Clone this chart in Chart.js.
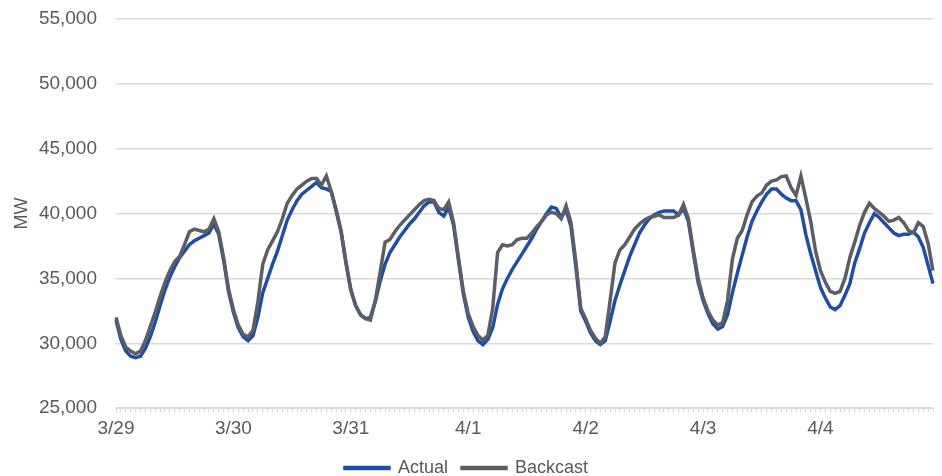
<!DOCTYPE html>
<html>
<head>
<meta charset="utf-8">
<script src="https://cdn.jsdelivr.net/npm/chart.js@4.4.1/dist/chart.umd.min.js"></script>
<style>
  html, body { margin: 0; padding: 0; background: #fff; }
  #wrap { width: 942px; height: 476px; }
</style>
</head>
<body>
<div id="wrap"><canvas id="chart"></canvas></div>
<script>
// hourly load, 3/29 00:00 through 4/4 23:00
const days = ["3/29", "3/30", "3/31", "4/1", "4/2", "4/3", "4/4"];

const actual = [
  31800, 30300, 29400, 29000, 28900, 29000, 29600, 30500, 31600, 32900, 34100, 35100, 35900, 36600, 37100, 37600, 37900, 38100, 38300, 38500, 39200, 38400, 36400, 34000,
  32400, 31200, 30500, 30200, 30600, 32000, 33900, 35000, 36100, 37100, 38300, 39500, 40300, 41000, 41500, 41800, 42100, 42400, 42000, 41900, 41700, 40200, 38600, 36200,
  34100, 32900, 32200, 31900, 32000, 33200, 34800, 36100, 37000, 37600, 38200, 38700, 39200, 39600, 40100, 40600, 40900, 40900, 40100, 39800, 40500, 39100, 36400, 33800,
  32000, 30900, 30200, 29900, 30300, 31200, 33000, 34200, 35000, 35700, 36300, 36900, 37500, 38100, 38800, 39400, 40000, 40500, 40400, 39700, 40300, 39000, 35900, 32500,
  31700, 30800, 30200, 29900, 30200, 31700, 33300, 34500, 35600, 36700, 37600, 38500, 39100, 39600, 39900, 40100, 40200, 40200, 40200, 39900, 40400, 39400, 37000, 34700,
  33300, 32300, 31500, 31100, 31300, 32200, 33900, 35400, 36800, 38200, 39400, 40200, 40900, 41500, 41900, 41900, 41500, 41200, 41000, 41000, 40300, 38400, 36900, 35600,
  34300, 33500, 32800, 32600, 32900, 33700, 34600, 36200, 37300, 38500, 39300, 40000, 39700, 39300, 38900, 38500, 38300, 38400, 38400, 38600, 38200, 37400, 36000, 34600
];

const backcast = [
  32000, 30600, 29700, 29400, 29200, 29400, 30200, 31300, 32400, 33600, 34700, 35600, 36300, 36700, 37600, 38600, 38800, 38700, 38600, 38800, 39600, 38600, 36600, 34200,
  32600, 31400, 30700, 30500, 31000, 33200, 36100, 37200, 37900, 38600, 39600, 40800, 41400, 41900, 42200, 42500, 42700, 42700, 42200, 42900, 41700, 40300, 38700, 36300,
  34100, 32900, 32200, 31900, 31800, 33300, 35500, 37800, 38000, 38600, 39100, 39500, 39900, 40300, 40700, 41000, 41100, 41000, 40400, 40300, 40900, 39300, 36600, 34000,
  32300, 31300, 30600, 30250, 30600, 32700, 37000, 37600, 37500, 37600, 38000, 38100, 38100, 38500, 39000, 39400, 39900, 40100, 40000, 39600, 40600, 39300, 36300, 32700,
  31900, 31000, 30400, 30000, 30500, 33300, 36200, 37200, 37600, 38200, 38800, 39200, 39500, 39700, 39800, 39900, 39700, 39700, 39700, 39900, 40700, 39600, 37200, 35000,
  33500, 32500, 31800, 31400, 31600, 33300, 36500, 38100, 38700, 39900, 40900, 41350, 41600, 42200, 42500, 42600, 42850, 42900, 42000, 41400, 42900, 41200, 39400, 37100,
  35600, 34700, 34000, 33850, 34000, 35000, 36600, 37800, 39100, 40100, 40800, 40400, 40100, 39800, 39400, 39500, 39700, 39300, 38700, 38500, 39300, 39000, 37700, 35600
];

const hours = actual.map((v, i) => i % 24 === 0 ? days[i / 24] : "");

const textColor = "#595959";
const gridColor = "#d9d9d9";
const fontFamily = "'Liberation Sans', Arial, sans-serif";

const ctx = document.getElementById("chart").getContext("2d");
new Chart(ctx, {
  type: "line",
  data: {
    labels: hours,
    datasets: [
      {
        label: "Actual",
        data: actual,
        borderColor: "#1f4fa2",
        backgroundColor: "#1f4fa2",
        borderWidth: 3.5,
        pointRadius: 0,
        tension: 0,
        order: 1,
      },
      {
        label: "Backcast",
        data: backcast,
        borderColor: "#5b5e66",
        backgroundColor: "#5b5e66",
        borderWidth: 3.5,
        pointRadius: 0,
        tension: 0,
        order: 0,
      },
    ],
  },
  options: {
    responsive: true,
    maintainAspectRatio: false,
    animation: false,
    layout: { padding: { top: 19, right: 9, bottom: -11, left: 0 } },
    plugins: {
      tooltip: { enabled: false },
      legend: {
        position: "bottom",
        labels: {
          color: textColor,
          font: { family: fontFamily, size: 18 },
          boxWidth: 44,
          boxHeight: 1,
          padding: 14,
          sort: (a, b) => a.datasetIndex - b.datasetIndex,
        },
      },
    },
    scales: {
      x: {
        ticks: {
          autoSkip: false,
          maxRotation: 0,
          minRotation: 0,
          padding: 5,
          color: textColor,
          font: { family: fontFamily, size: 19 },
        },
        grid: {
          drawOnChartArea: false,
          drawTicks: true,
          tickLength: 4,
          color: gridColor,
        },
        border: { color: gridColor },
      },
      y: {
        min: 25000,
        max: 55000,
        afterFit: (scale) => {
          scale.width = 116;
          scale.paddingTop = 0;
          scale.paddingBottom = 0;
        },
        ticks: {
          stepSize: 5000,
          padding: 19,
          color: textColor,
          font: { family: fontFamily, size: 19 },
          callback: (v) => v.toLocaleString("en-US"),
        },
        grid: { color: gridColor, drawTicks: false, lineWidth: 1.5 },
        border: { display: false },
        title: {
          display: true,
          text: "MW",
          color: textColor,
          padding: { top: 11, bottom: 0 },
          font: { family: fontFamily, size: 18 },
        },
      },
    },
  },
});
</script>
</body>
</html>
